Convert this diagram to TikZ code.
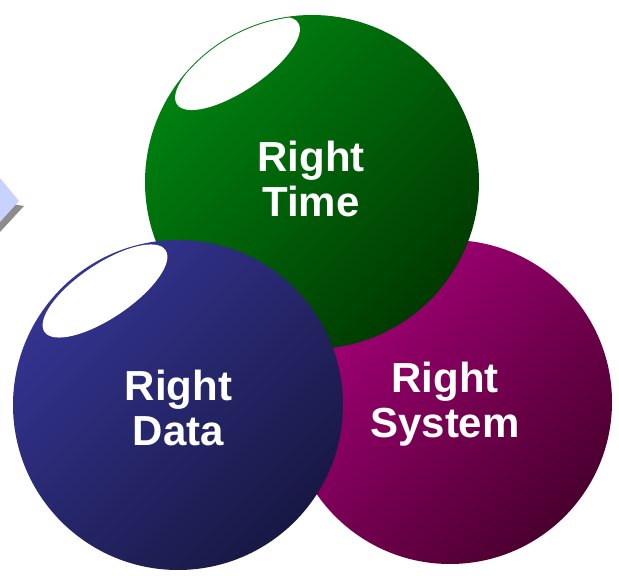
\documentclass[tikz,border=0pt]{standalone}
\usepackage{fontspec}
\setmainfont{Liberation Sans}
\usetikzlibrary{shapes.geometric}
\definecolor{gTop}{HTML}{008210}
\definecolor{gBot}{HTML}{003A00}
\definecolor{bTop}{HTML}{343492}
\definecolor{bBot}{HTML}{181844}
\definecolor{pTop}{HTML}{A8007A}
\definecolor{pBot}{HTML}{4A002E}
\definecolor{tabBlue}{HTML}{C8D2FF}
\tikzset{
  ball/.style={circle, inner sep=0pt},
  gloss/.style={fill=white, draw=none, ellipse, inner sep=0pt, minimum width=146pt, minimum height=54pt, rotate=34},
  lbl/.style={text=white, font=\fontsize{42}{45}\selectfont\bfseries, align=center, inner sep=0pt}
}
\begin{document}
\begin{tikzpicture}[x=1pt,y=1pt]
\useasboundingbox (0,0) rectangle (619,576);
% left partial tab
\fill[gray!90] (0,374) -- (24,370) -- (0,344) -- cycle;
\fill[tabBlue] (0,398) -- (19,375) -- (0,354) -- cycle;
% balls
\node[ball, minimum size=324pt, top color=pTop, bottom color=pBot, shading angle=45] (p) at (450,174) {};
\node[ball, minimum size=334pt, top color=gTop, bottom color=gBot, shading angle=45] (g) at (312,394) {};
\begin{scope}
  \clip (g.center) circle[radius=166];
  \node[gloss] (gh) at (237.5,512.5) {};
\end{scope}
\node[ball, minimum size=330pt, top color=bTop, bottom color=bBot, shading angle=45] (b) at (178,171) {};
\begin{scope}
  \clip (b.center) circle[radius=164];
  \node[gloss] (bh) at (105,285) {};
\end{scope}
% labels
\node[lbl] (gt) at (311,397) {Right\\Time};
\node[lbl] (bt) at (178.5,168) {Right\\Data};
\node[lbl] (pt) at (445,172) {Right\\System};
\end{tikzpicture}
\end{document}
